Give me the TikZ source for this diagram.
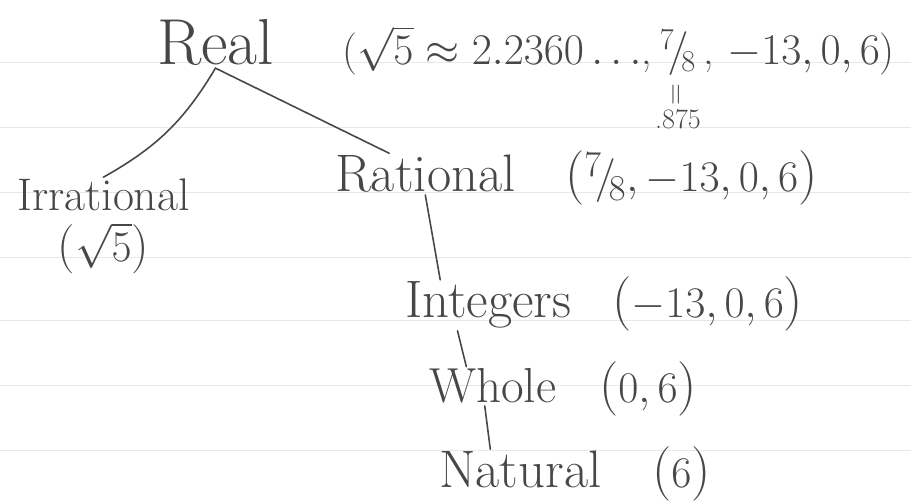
\documentclass[tikz,border=0pt]{standalone}
\usetikzlibrary{positioning,calc}
\begin{document}
\begin{tikzpicture}[
    pencil/.style={draw=black!72, line width=0.9pt, line cap=round},
    ruling/.style={draw=black!9, line width=0.5pt},
    word/.style={text=black!72, inner sep=1pt, font=\fontsize{30}{34}\selectfont},
    numset/.style={text=black!72, inner sep=1pt, font=\fontsize{31}{35}\selectfont},
    topset/.style={numset, font=\fontsize{24}{28}\selectfont},
    note/.style={text=black!72, inner sep=0pt, font=\fontsize{16}{18}\selectfont}
]
    \path[use as bounding box] (0,0) rectangle (18.22,10.08);

    % Ruled lines of the page.
    \foreach \y in {8.84,7.54,6.24,4.94,3.68,2.38,1.08}
        \draw[ruling] (0,\y) -- (18.22,\y);

    % Real numbers.
    \node[word, font=\fontsize{37}{40}\selectfont, anchor=base west] (real) at (3.10,8.78) {Real};
    \node[topset, anchor=base west] (realnums) at (6.80,8.78) {($\sqrt{5}\approx 2.2360\ldots$,};
    \node[topset, anchor=base west, inner xsep=3pt] (frac) at (realnums.base east) {$^{7}\!/\!_{8}$};
    \node[topset, anchor=base west] (realrest) at (frac.base east) {, $-13, 0, 6$)};
    \node[note, below=3pt of frac] (eq) {\rotatebox{90}{$=$}};
    \node[note, below=2pt of eq] (dec) {.875};

    % Irrational and rational.
    \node[word, font=\fontsize{26}{30}\selectfont, anchor=base west] (irr) at (0.30,5.86) {Irrational};
    \node[numset, font=\fontsize{28}{32}\selectfont, below=4pt of irr] (irrnum) {($\sqrt{5}$)};
    \node[word, anchor=base west] (rat) at (6.66,6.24) {Rational};
    \node[numset, anchor=base west] (ratset) at (11.26,6.24) {($^{7}\!/\!_{8}, -13, 0, 6$)};

    % Integers, whole, natural.
    \node[word, anchor=base west] (int) at (8.06,3.72) {Integers};
    \node[numset, anchor=base west] (intset) at (12.20,3.72) {($-13, 0, 6$)};
    \node[word, font=\fontsize{28}{32}\selectfont, anchor=base west] (whole) at (8.54,2.02) {Whole};
    \node[numset, anchor=base west] (wholeset) at (11.94,2.02) {($0, 6$)};
    \node[word, anchor=base west] (nat) at (8.74,0.32) {Natural};
    \node[numset, anchor=base west] (natset) at (13.00,0.32) {($6$)};

    \draw[pencil] (real.south) to[bend left=15] (irr.north);
    \draw[pencil] (real.south) -- (rat.150);
    \draw[pencil] (rat.south) -- (int.152);
    \draw[pencil] ($(int.south west)!0.32!(int.south east)$)
        -- ($(whole.north west)!0.30!(whole.north east)$);
    \draw[pencil] ($(whole.south west)!0.44!(whole.south east)$)
        -- ($(nat.north west)!0.32!(nat.north east)$);
\end{tikzpicture}
\end{document}
